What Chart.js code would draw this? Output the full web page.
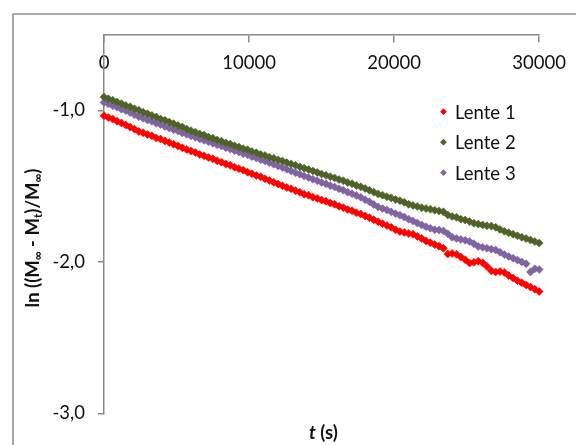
<!DOCTYPE html>
<html>
<head>
<meta charset="utf-8">
<script src="https://cdn.jsdelivr.net/npm/chart.js@4/dist/chart.umd.min.js"></script>
<style>
  html, body { margin: 0; padding: 0; background: #fff; }
  #wrap { width: 576px; height: 445px; }
</style>
</head>
<body>
<div id="wrap"><canvas id="c" width="576" height="445"></canvas></div>
<script>
// Sampling times (s)
const timeS = [
  0,300,600,900,1200,1500,1800,2100,2400,2700,
  3000,3300,3600,3900,4200,4500,4800,5100,5400,5700,
  6000,6300,6600,6900,7200,7500,7800,8100,8400,8700,
  9000,9300,9600,9900,10200,10500,10800,11100,11400,11700,
  12000,12300,12600,12900,13200,13500,13800,14100,14400,14700,
  15000,15300,15600,15900,16200,16500,16800,17100,17400,17700,
  18000,18300,18600,18900,19200,19500,19800,20100,20400,20700,
  21000,21300,21600,21900,22200,22500,22800,23100,23400,23700,
  24000,24300,24600,24900,25200,25500,25800,26100,26400,26700,
  27000,27300,27600,27900,28200,28500,28800,29100,29400,29700,
  30000
];

// ln((M∞ - Mt)/M∞) for each lens
const lente1 = [
  -1.036,-1.048,-1.058,-1.072,-1.083,-1.097,-1.110,-1.124,-1.140,-1.148,
  -1.160,-1.168,-1.182,-1.190,-1.202,-1.213,-1.224,-1.235,-1.247,-1.258,
  -1.268,-1.278,-1.292,-1.300,-1.312,-1.320,-1.333,-1.342,-1.355,-1.363,
  -1.375,-1.385,-1.395,-1.408,-1.418,-1.430,-1.439,-1.452,-1.463,-1.475,
  -1.486,-1.498,-1.509,-1.518,-1.530,-1.540,-1.553,-1.560,-1.573,-1.581,
  -1.592,-1.600,-1.612,-1.620,-1.633,-1.642,-1.655,-1.662,-1.676,-1.684,
  -1.697,-1.708,-1.722,-1.735,-1.748,-1.760,-1.772,-1.788,-1.800,-1.806,
  -1.812,-1.818,-1.832,-1.846,-1.862,-1.874,-1.886,-1.896,-1.910,-1.948,
  -1.944,-1.950,-1.968,-1.985,-2.008,-2.003,-1.996,-2.006,-2.030,-2.058,
  -2.066,-2.064,-2.070,-2.090,-2.106,-2.124,-2.138,-2.152,-2.166,-2.180,
  -2.195
];
const lente2 = [
  -0.912,-0.924,-0.933,-0.946,-0.956,-0.968,-0.977,-0.990,-1.000,-1.013,
  -1.023,-1.034,-1.045,-1.057,-1.066,-1.078,-1.088,-1.101,-1.110,-1.124,
  -1.135,-1.144,-1.156,-1.163,-1.176,-1.184,-1.196,-1.204,-1.215,-1.223,
  -1.234,-1.242,-1.253,-1.260,-1.272,-1.280,-1.291,-1.298,-1.309,-1.316,
  -1.327,-1.334,-1.345,-1.354,-1.363,-1.373,-1.382,-1.391,-1.400,-1.410,
  -1.420,-1.428,-1.438,-1.446,-1.457,-1.465,-1.476,-1.484,-1.496,-1.505,
  -1.516,-1.528,-1.540,-1.552,-1.560,-1.570,-1.578,-1.588,-1.596,-1.607,
  -1.620,-1.628,-1.634,-1.642,-1.648,-1.652,-1.660,-1.664,-1.670,-1.690,
  -1.700,-1.706,-1.718,-1.724,-1.734,-1.745,-1.750,-1.756,-1.762,-1.764,
  -1.772,-1.786,-1.798,-1.808,-1.818,-1.828,-1.838,-1.846,-1.856,-1.866,
  -1.876
];
const lente3 = [
  -0.948,-0.958,-0.970,-0.980,-0.993,-1.002,-1.015,-1.030,-1.042,-1.052,
  -1.064,-1.073,-1.086,-1.094,-1.107,-1.117,-1.128,-1.137,-1.149,-1.158,
  -1.169,-1.178,-1.189,-1.198,-1.208,-1.217,-1.228,-1.236,-1.247,-1.256,
  -1.266,-1.275,-1.286,-1.294,-1.306,-1.314,-1.326,-1.334,-1.346,-1.356,
  -1.367,-1.378,-1.389,-1.400,-1.412,-1.422,-1.434,-1.443,-1.455,-1.464,
  -1.476,-1.485,-1.497,-1.506,-1.518,-1.527,-1.540,-1.550,-1.562,-1.574,
  -1.590,-1.604,-1.622,-1.638,-1.648,-1.658,-1.670,-1.682,-1.692,-1.704,
  -1.718,-1.730,-1.744,-1.756,-1.768,-1.778,-1.788,-1.790,-1.796,-1.814,
  -1.838,-1.846,-1.852,-1.858,-1.866,-1.880,-1.898,-1.904,-1.910,-1.916,
  -1.922,-1.936,-1.952,-1.964,-1.976,-1.988,-2.000,-2.012,-2.066,-2.046,
  -2.050
];

const seriesNames = ['Lente 1', 'Lente 2', 'Lente 3'];
const seriesColors = ['#FF0000', '#4F6228', '#8064A2'];

const xTickValues = [0, 10000, 20000, 30000];
const xTickLabels = ['0', '10000', '20000', '30000'];
const yTickValues = [-3, -2, -1];
const yTickLabels = ['-3,0', '-2,0', '-1,0'];

const FONT = 'Lato, "Open Sans", "DejaVu Sans", sans-serif';
const AXIS = '#8a8a8a';
const TEXT = '#111111';

const seriesValues = [lente1, lente2, lente3];
const datasets = seriesValues.map((vals, k) => ({
  label: seriesNames[k],
  data: timeS.map((t, i) => ({ x: t, y: vals[i] })),
  showLine: false,
  pointStyle: 'rectRot',
  pointRadius: 4,
  pointHoverRadius: 4,
  pointBorderWidth: 0.6,
  backgroundColor: seriesColors[k],
  borderColor: seriesColors[k],
  clip: false
}));

// Outer frame, drawn behind everything
const framePlugin = {
  id: 'frame',
  beforeDraw(chart) {
    const ctx = chart.ctx;
    ctx.save();
    ctx.strokeStyle = '#8c8c8c';
    ctx.lineWidth = 1.5;
    ctx.strokeRect(13, 14, 700, 600);
    ctx.restore();
  }
};

// Axis titles (with subscripts) and the legend
const annotatePlugin = {
  id: 'annotate',
  afterDraw(chart) {
    const ctx = chart.ctx;
    ctx.save();

    // legend
    chart.data.datasets.forEach((ds, i) => {
      const cy = 111.7 + 30.5 * i;
      const cx = 443.5;
      const r = 3.4;
      ctx.fillStyle = ds.backgroundColor;
      ctx.beginPath();
      ctx.moveTo(cx - r, cy);
      ctx.lineTo(cx, cy - r);
      ctx.lineTo(cx + r, cy);
      ctx.lineTo(cx, cy + r);
      ctx.closePath();
      ctx.fill();
      ctx.fillStyle = TEXT;
      ctx.font = '18.5px ' + FONT;
      ctx.textAlign = 'left';
      ctx.textBaseline = 'middle';
      ctx.fillText(ds.label, 455, cy + 1);
    });

    // y-axis title
    const main = 'bold 18.5px ' + FONT;
    const sub = 'bold 12px ' + FONT;
    const parts = [
      ['ln ((M', false], ['\u221E', true], [' - M', false], ['t', true],
      [')/M', false], ['\u221E', true], [')', false]
    ];
    let total = 0;
    parts.forEach(p => { ctx.font = p[1] ? sub : main; total += ctx.measureText(p[0]).width; });
    ctx.translate(33, 238);
    ctx.rotate(-Math.PI / 2);
    ctx.textAlign = 'left';
    ctx.textBaseline = 'middle';
    ctx.fillStyle = TEXT;
    let px = -total / 2;
    parts.forEach(p => {
      ctx.font = p[1] ? sub : main;
      ctx.fillText(p[0], px, p[1] ? 5 : 0);
      px += ctx.measureText(p[0]).width;
    });
    ctx.setTransform(1, 0, 0, 1, 0, 0);

    // x-axis title
    const a = 't', b = ' (s)';
    ctx.font = 'italic bold 18.5px ' + FONT;
    const wa = ctx.measureText(a).width;
    ctx.font = 'bold 18.5px ' + FONT;
    const wb = ctx.measureText(b).width;
    let sx = 323.5 - (wa + wb) / 2;
    ctx.textBaseline = 'middle';
    ctx.font = 'italic bold 18.5px ' + FONT;
    ctx.fillText(a, sx, 433);
    ctx.font = 'bold 18.5px ' + FONT;
    ctx.fillText(b, sx + wa, 433);

    ctx.restore();
  }
};

new Chart(document.getElementById('c'), {
  type: 'scatter',
  data: { datasets },
  options: {
    responsive: false,
    devicePixelRatio: 1,
    animation: false,
    events: [],
    layout: { padding: { top: 34.5, right: 33.5, bottom: 31.5, left: 0 } },
    plugins: { legend: { display: false }, tooltip: { enabled: false }, title: { display: false } },
    scales: {
      x: {
        type: 'linear',
        position: { y: -0.5 },
        min: 0,
        max: 30000,
        afterBuildTicks: s => { s.ticks = xTickValues.map(v => ({ value: v })); },
        ticks: {
          callback: (v, i) => xTickLabels[i],
          font: { family: FONT, size: 18.5 },
          color: TEXT,
          padding: 10,
          maxRotation: 0,
          autoSkip: false
        },
        grid: { drawOnChartArea: false, drawTicks: true, tickLength: 7, color: AXIS, lineWidth: 1.5 },
        border: { color: AXIS, width: 1.5 }
      },
      y: {
        type: 'linear',
        position: 'left',
        min: -3,
        max: -0.5,
        afterBuildTicks: s => { s.ticks = yTickValues.map(v => ({ value: v })); },
        afterFit: s => { s.width = 104; },
        ticks: {
          callback: (v, i) => yTickLabels[i],
          font: { family: FONT, size: 18.5 },
          color: TEXT,
          padding: 13
        },
        grid: { drawOnChartArea: false, drawTicks: true, tickLength: 6, color: AXIS, lineWidth: 1.5 },
        border: { color: AXIS, width: 1.5 }
      }
    }
  },
  plugins: [framePlugin, annotatePlugin]
});
</script>
</body>
</html>
